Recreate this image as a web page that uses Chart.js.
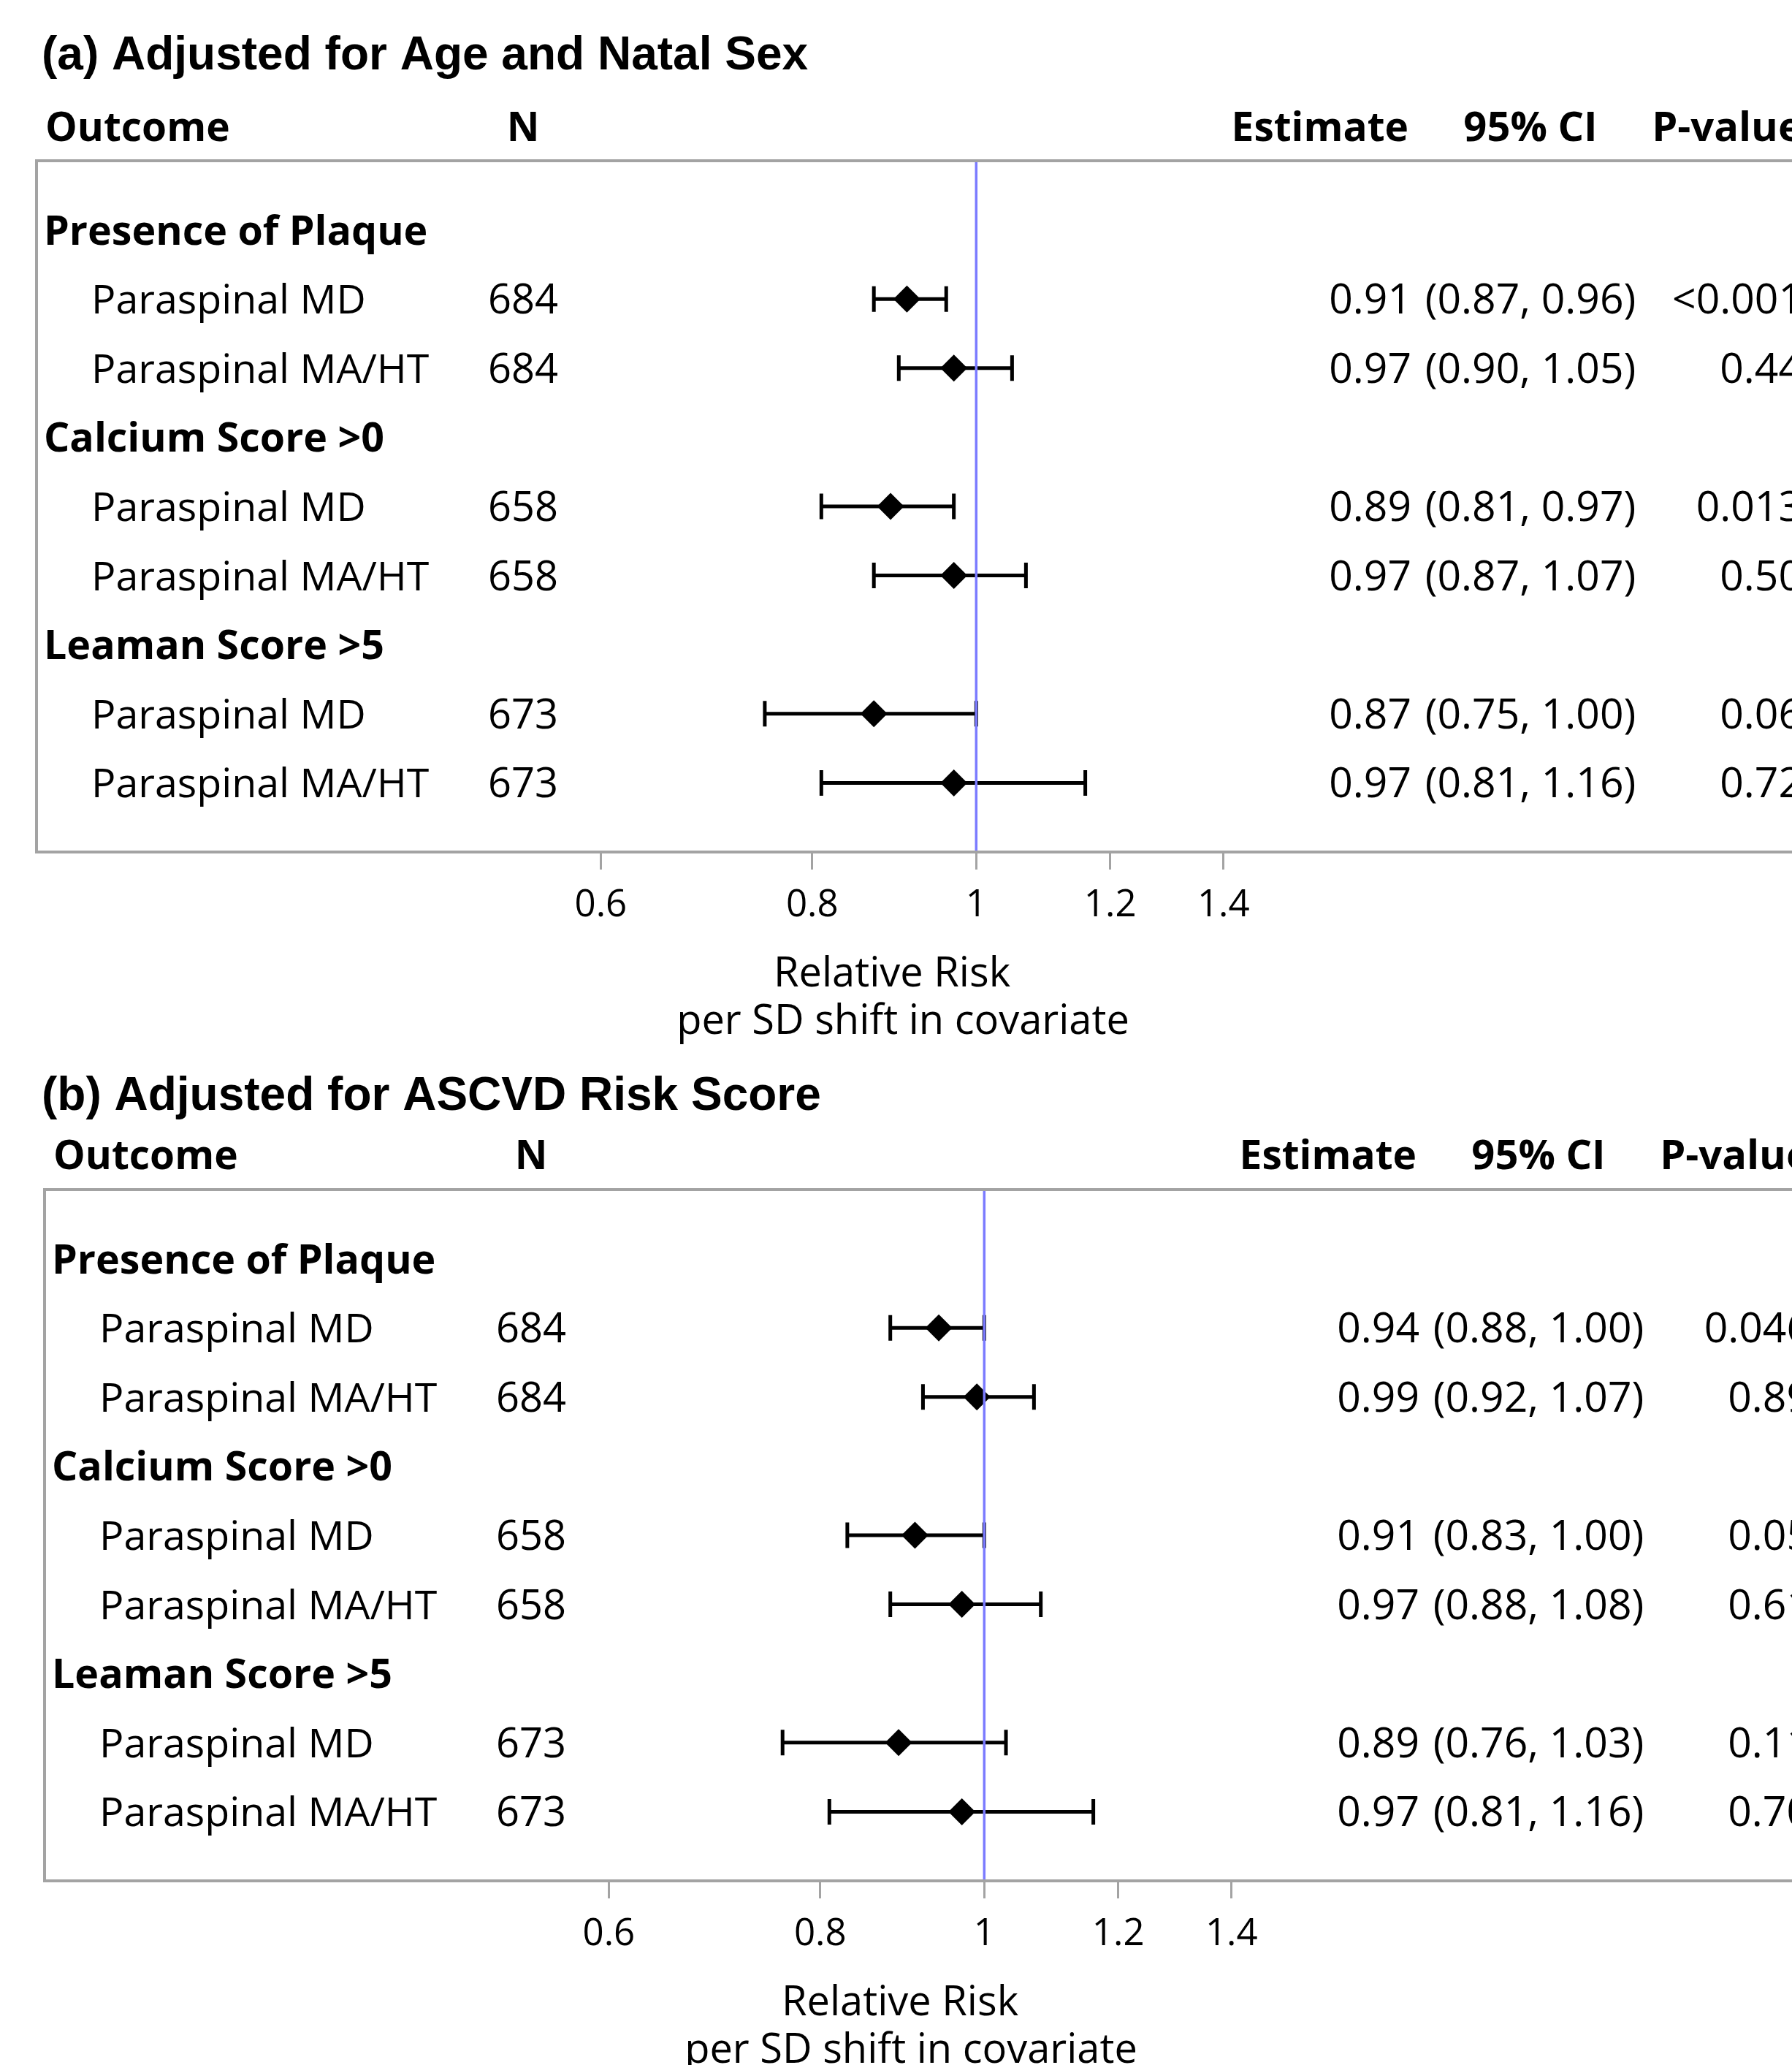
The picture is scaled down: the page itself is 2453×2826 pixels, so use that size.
<!DOCTYPE html>
<html>
<head>
<meta charset="utf-8">
<script src="https://cdn.jsdelivr.net/npm/chart.js@4.4.1/dist/chart.umd.min.js"></script>
<style>
html, body { margin:0; padding:0; background:#fff; overflow:hidden; width:2453px; height:2826px; }
canvas { position:absolute; left:0; }
#ca { top:0; }
#cb { top:1450px; }
</style>
</head>
<body>
<canvas id="ca" width="2520" height="1450"></canvas>
<canvas id="cb" width="2520" height="1376"></canvas>
<script>
// ---------- DATA ----------
const outcomes = ['Presence of Plaque', 'Paraspinal MD', 'Paraspinal MA/HT',
                  'Calcium Score >0', 'Paraspinal MD', 'Paraspinal MA/HT',
                  'Leaman Score >5', 'Paraspinal MD', 'Paraspinal MA/HT'];
const groupRow = [true, false, false, true, false, false, true, false, false];
const nValues  = ['', '684', '684', '', '658', '658', '', '673', '673'];

const panelTitles = ['(a) Adjusted for Age and Natal Sex', '(b) Adjusted for ASCVD Risk Score'];
const headers = ['Outcome', 'N', 'Estimate', '95% CI', 'P-value'];

// Panel (a)
const estA = [null, 0.91, 0.97, null, 0.89, 0.97, null, 0.87, 0.97];
const loA  = [null, 0.87, 0.90, null, 0.81, 0.87, null, 0.75, 0.81];
const hiA  = [null, 0.96, 1.05, null, 0.97, 1.07, null, 1.00, 1.16];
const pA   = ['', '<0.001', '0.44', '', '0.013', '0.50', '', '0.06', '0.72'];

// Panel (b)
const estB = [null, 0.94, 0.99, null, 0.91, 0.97, null, 0.89, 0.97];
const loB  = [null, 0.88, 0.92, null, 0.83, 0.88, null, 0.76, 0.81];
const hiB  = [null, 1.00, 1.07, null, 1.00, 1.08, null, 1.03, 1.16];
const pB   = ['', '0.046', '0.89', '', '0.05', '0.61', '', '0.11', '0.70'];

const tickValues = [0.6, 0.8, 1, 1.2, 1.4];
const tickLabels = ['0.6', '0.8', '1', '1.2', '1.4'];
const axisTitleLines = ['Relative Risk', 'per SD shift in covariate'];
const refValue = 1;

// ---------- LAYOUT ----------
const CANVAS_W = 2520;
const PX_PER_LN = 1006;
const layouts = [
  { id:'ca', H:1450, off:0,  frameLeft:50, titleBase:95, headBase:193, top:220, bottom:1166 },
  { id:'cb', H:1376, off:11, frameLeft:61, titleBase:69, headBase:150, top:178, bottom:1124 }
];
const AXIS_H = 200;
const REG = '"Open Sans", "Noto Sans", sans-serif';
const BOLD_HEAD = 'bold 55px "Open Sans", "Noto Sans", sans-serif';
const BOLD_GROUP = 'bold 55.5px "Open Sans", "Noto Sans", sans-serif';

function fmt(v) { return v.toFixed(2); }

function makePanel(L, title, est, lo, hi, pv) {
  const x1 = 1336.3 + L.off;
  const rows = est.map((e, i) => (e == null ? -1 : i)).filter(i => i >= 0);

  const tablePlugin = {
    id: 'forestTable',
    afterDraw(chart) {
      const ctx = chart.ctx;
      const ys = chart.scales.y;
      const ca = chart.chartArea;
      const o = L.off;
      ctx.save();
      // frame
      ctx.strokeStyle = '#a3a3a3';
      ctx.lineWidth = 4;
      ctx.strokeRect(ca.left, ca.top, ca.right - ca.left, ca.bottom - ca.top);

      ctx.fillStyle = '#000';
      ctx.textBaseline = 'alphabetic';
      // title
      ctx.font = 'bold 64px "Liberation Sans", Arial, sans-serif';
      ctx.textAlign = 'left';
      ctx.fillText(title, 57, L.titleBase);
      // headers
      ctx.font = BOLD_HEAD;
      ctx.textAlign = 'left';   ctx.fillText(headers[0], 62 + o, L.headBase);
      ctx.textAlign = 'center'; ctx.fillText(headers[1], 716 + o, L.headBase);
      ctx.textAlign = 'right';  ctx.fillText(headers[2], 1928 + o, L.headBase);
      ctx.font = 'bold 56px "Open Sans", "Noto Sans", sans-serif';
      ctx.textAlign = 'center'; ctx.fillText(headers[3], 2095 + o, L.headBase);
      ctx.textAlign = 'right';  ctx.fillText(headers[4], 2467 + o, L.headBase);
      // rows
      outcomes.forEach((lab, i) => {
        const y = ys.getPixelForValue(i) + 20;
        if (groupRow[i]) {
          ctx.font = BOLD_GROUP;
          ctx.textAlign = 'left';
          ctx.fillText(lab, 60 + o, y);
          return;
        }
        ctx.font = '55.5px ' + REG;
        ctx.textAlign = 'left';   ctx.fillText(lab, 125 + o, y);
        ctx.font = '56px ' + REG;
        ctx.textAlign = 'center'; ctx.fillText(nValues[i], 716 + o, y);
        if (est[i] != null) {
          ctx.font = '57px ' + REG;
          ctx.textAlign = 'right';  ctx.fillText(fmt(est[i]), 1932 + o, y);
          ctx.textAlign = 'center'; ctx.fillText('(' + fmt(lo[i]) + ', ' + fmt(hi[i]) + ')', 2095 + o, y);
          ctx.textAlign = 'right';  ctx.fillText(pv[i], 2467 + o, y);
        }
      });
      // axis title
      ctx.font = '56px ' + REG;
      ctx.textAlign = 'center';
      ctx.fillText(axisTitleLines[0], 1221 + o, ca.bottom + 184);
      ctx.fillText(axisTitleLines[1], 1236 + o, ca.bottom + 249);
      ctx.restore();
    }
  };

  const chart = new Chart(document.getElementById(L.id), {
    type: 'scatter',
    data: {
      datasets: [
        { // reference line
          type: 'scatter', showLine: true, order: 0,
          data: [{ x: refValue, y: -1 }, { x: refValue, y: 9 }],
          borderColor: '#7b7bff', borderWidth: 3.5, pointRadius: 0, fill: false
        },
        { // estimates
          type: 'scatter', order: 1,
          data: rows.map(i => ({ x: est[i], y: i })),
          pointStyle: 'rectRot', pointRadius: 18.5, backgroundColor: '#000',
          borderColor: '#000', borderWidth: 0
        },
        { // CI caps
          type: 'scatter', order: 2,
          data: rows.flatMap(i => [{ x: lo[i], y: i }, { x: hi[i], y: i }]),
          pointStyle: 'line', rotation: 90, pointRadius: 17.5,
          borderColor: '#000', borderWidth: 5
        },
        { // CI whiskers
          type: 'bar', indexAxis: 'y', order: 3,
          data: rows.map(i => ({ x: [lo[i], hi[i]], y: i })),
          backgroundColor: '#000', borderWidth: 0, barThickness: 5, inflateAmount: 0
        }
      ]
    },
    options: {
      responsive: false,
      animation: false,
      devicePixelRatio: 1,
      layout: { padding: { left: L.frameLeft, right: 0, top: L.top, bottom: L.H - L.bottom - AXIS_H } },
      plugins: { legend: { display: false }, tooltip: { enabled: false }, title: { display: false } },
      scales: {
        x: {
          type: 'logarithmic', position: 'bottom',
          min: Math.exp((L.frameLeft - x1) / PX_PER_LN),
          max: Math.exp((CANVAS_W - x1) / PX_PER_LN),
          bounds: 'data', beginAtZero: false, offset: false,
          afterBuildTicks(scale) { scale.ticks = tickValues.map(v => ({ value: v })); },
          afterFit(scale) { scale.height = AXIS_H; },
          ticks: {
            autoSkip: false, maxRotation: 0, minRotation: 0, padding: 19,
            color: '#000', font: { family: REG, size: 51 },
            callback: (v, idx) => tickLabels[idx]
          },
          grid: { display: true, drawOnChartArea: false, drawTicks: true, tickLength: 24,
                  tickColor: '#a3a3a3', lineWidth: 3, color: '#a3a3a3' },
          border: { display: false },
          title: { display: false }
        },
        y: {
          type: 'linear', min: -1, max: 9, reverse: true, display: false, offset: false,
          grid: { display: false }
        }
      }
    },
    plugins: [tablePlugin]
  });

  // calibrate the log axis range to the real plot area so that 1 sits at x1
  const ca = chart.chartArea;
  chart.options.scales.x.min = Math.exp((ca.left - x1) / PX_PER_LN);
  chart.options.scales.x.max = Math.exp((ca.right - x1) / PX_PER_LN);
  chart.update();
  return chart;
}

function build() {
  makePanel(layouts[0], panelTitles[0], estA, loA, hiA, pA);
  makePanel(layouts[1], panelTitles[1], estB, loB, hiB, pB);
}

Promise.all([
  document.fonts.load('56px "Open Sans"'),
  document.fonts.load('bold 56px "Open Sans"'),
  document.fonts.load('bold 64px "Liberation Sans"')
]).then(build, build);
</script>
</body>
</html>
